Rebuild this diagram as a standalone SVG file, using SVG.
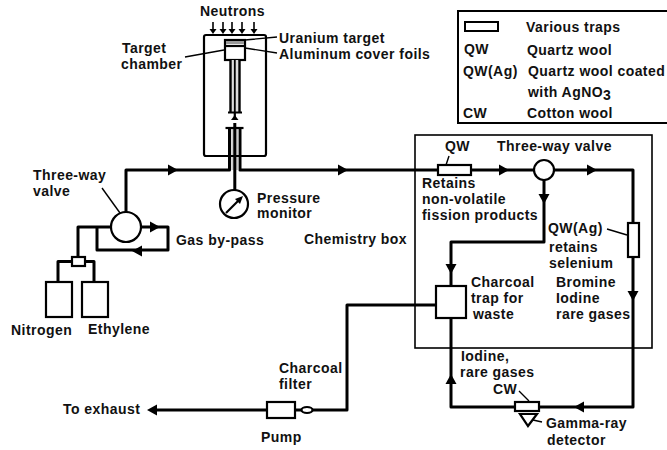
<svg xmlns="http://www.w3.org/2000/svg" width="667" height="450" viewBox="0 0 667 450">
<style>
text{font-family:"Liberation Sans",Arial,sans-serif;font-size:14px;letter-spacing:.45px;font-weight:bold;fill:#111}
.p{fill:none;stroke:#000;stroke-width:3;stroke-linejoin:round}
.m{fill:none;stroke:#000;stroke-width:2.2}
.t{fill:none;stroke:#000;stroke-width:1.4}
.b{fill:#fff;stroke:#000;stroke-width:2.2}
.a{fill:#000;stroke:none}
</style>
<defs>
<path id="r" d="M-5-5.500L5 0L-5 5.500Z"/>
<path id="l" d="M5-5.500L-5 0L5 5.500Z"/>
<path id="d" d="M-5.500-5L5.500-5L0 5Z"/>
<path id="u" d="M-5.500 5L5.500 5L0-5Z"/>
<g id="n"><path d="M0-6V2" stroke="#000" stroke-width="1.6"/><path d="M-3.500 1L3.500 1L0 6Z" fill="#000"/></g>
</defs>
<g id="connectors">
<path class="p" d="M126 212V170H229.500V128"/>
<path class="p" d="M240 128V170H438"/>
<path class="p" d="M472 170H534"/>
<path class="p" d="M554 170H633V222"/>
<path class="p" d="M633 257V407H539"/>
<path class="p" d="M515 407H451V318"/>
<path class="p" d="M544 180V242H451V286"/>
<path class="p" d="M436 305H347V410H312"/>
<path class="p" d="M302 410H295"/>
<path class="p" d="M267 410H152"/>
<path class="p" d="M111 227H78V257"/>
<path class="p" d="M97 227V250H168V227H141"/>
<path class="p" d="M72 261.500H58V282"/>
<path class="p" d="M85 261.500H94V282"/>
<path d="M234.800 128V170" stroke="#ccc" stroke-width="7"/>
<path class="p" d="M234.800 123V190"/>
<g class="a">
<use href="#r" x="173" y="170"/><use href="#r" x="343" y="170"/><use href="#r" x="504" y="170"/><use href="#r" x="592" y="170"/>
<use href="#r" x="155" y="227"/><use href="#l" x="137" y="251"/><use href="#d" x="544" y="199"/><use href="#d" x="451" y="269"/>
<use href="#d" x="633" y="296"/><use href="#l" x="579" y="407"/><use href="#u" x="451" y="379"/><use href="#l" x="152" y="410"/>
</g>
</g>
<g id="target-chamber">
<rect x="204" y="35" width="62" height="121" rx="2" class="m"/>
<rect x="225" y="40" width="20" height="20" class="b"/>
<rect x="226" y="41" width="18" height="3" fill="#999"/>
<path class="m" d="M225 46H245"/>
<path d="M234.800 60V112" stroke="#ddd" stroke-width="8"/>
<path d="M230.500 60V112M239.500 60V112" stroke="#000" stroke-width="2.400"/>
<path d="M234.800 60V112" stroke="#000" stroke-width="1.800"/>
<path class="m" d="M228 112.500H242M234.800 112V117"/>
<path class="a" d="M231 120H238.500L234.800 115Z"/>
<path class="m" d="M225.500 128H243.500"/>
<path class="t" d="M185 57L224 50M245 40L277 37M245 48L277 53"/>
<g class="a"><use href="#n" x="213" y="28"/><use href="#n" x="223" y="28"/><use href="#n" x="232" y="28"/><use href="#n" x="242" y="28"/><use href="#n" x="254" y="28"/></g>
<text x="200" y="16">Neutrons</text>
<text x="279" y="43">Uranium target</text>
<text x="279" y="59">Aluminum cover foils</text>
<text x="122" y="53">Target</text><text x="121" y="69">chamber</text>
</g>
<g id="pressure-monitor">
<circle cx="234" cy="204" r="14" class="b"/>
<path class="m" d="M226 213L240 199"/><path class="a" d="M243 196L235 199L240 204Z"/>
<text x="257" y="203">Pressure</text><text x="257" y="218">monitor</text>
</g>
<g id="inlet-valve">
<circle cx="126" cy="227" r="15" class="b"/>
<path class="t" d="M102 188L120 213"/>
<text x="33" y="180">Three-way</text><text x="33" y="196">valve</text>
<text x="176" y="245">Gas by-pass</text>
</g>
<g id="gas-bottles">
<rect x="72" y="257" width="13" height="9" class="b"/>
<rect x="46" y="282" width="26" height="35" class="b"/>
<rect x="82" y="282" width="26" height="35" class="b"/>
<text x="11" y="335">Nitrogen</text><text x="88" y="334">Ethylene</text>
</g>
<g id="chemistry-box">
<rect x="415" y="135" width="237" height="213" fill="none" stroke="#000" stroke-width="1.600"/>
<text x="304" y="244">Chemistry box</text>
</g>
<g id="qw-trap">
<rect x="438" y="165" width="33" height="10" class="b"/>
<path class="t" d="M446 165L449 156"/>
<text x="445" y="151">QW</text>
<text x="422" y="188">Retains</text><text x="422" y="204">non-volatile</text><text x="422" y="220">fission products</text>
</g>
<g id="valve-2">
<circle cx="544" cy="170" r="10" class="b"/>
<text x="497" y="151">Three-way valve</text>
</g>
<g id="qwag-trap">
<rect x="628" y="223" width="11" height="34" class="b"/>
<path class="t" d="M607 229L627 235"/>
<text x="548" y="233">QW(Ag)</text><text x="549" y="252">retains</text><text x="549" y="268">selenium</text>
<text x="556" y="287">Bromine</text><text x="556" y="303">Iodine</text><text x="556" y="319">rare gases</text>
</g>
<g id="charcoal-trap">
<rect x="436" y="286" width="30" height="32" class="b"/>
<text x="471" y="287">Charcoal</text><text x="471" y="303">trap for</text><text x="473" y="319">waste</text>
</g>
<g id="cw-trap">
<rect x="515" y="402" width="24" height="9" class="b"/>
<path class="m" d="M520 414H537L528 426Z"/>
<path class="t" d="M519 391L529 401M533 420L542 422"/>
<text x="461" y="361">Iodine,</text><text x="460" y="377">rare gases</text>
<text x="493" y="394">CW</text>
<text x="546" y="428">Gamma-ray</text><text x="547" y="445">detector</text>
</g>
<g id="pump">
<rect x="267" y="402" width="28" height="16" class="b"/>
<ellipse cx="307" cy="410" rx="5.500" ry="3" class="b"/>
<text x="279" y="373">Charcoal</text><text x="279" y="389">filter</text>
<text x="261" y="442">Pump</text>
<text x="63" y="414">To exhaust</text>
</g>
<g id="legend">
<rect x="458" y="11" width="214" height="112" fill="none" stroke="#000" stroke-width="2"/>
<rect x="465" y="22" width="33" height="9" fill="none" stroke="#000" stroke-width="2"/>
<text x="526" y="32">Various traps</text>
<text x="464" y="54">QW</text><text x="527" y="55">Quartz wool</text>
<text x="463" y="76">QW(Ag)</text><text x="528" y="76">Quartz wool coated</text>
<text x="528" y="97">with AgNO<tspan dy="3">3</tspan></text>
<text x="463" y="118">CW</text><text x="527" y="118">Cotton wool</text>
</g>
</svg>
